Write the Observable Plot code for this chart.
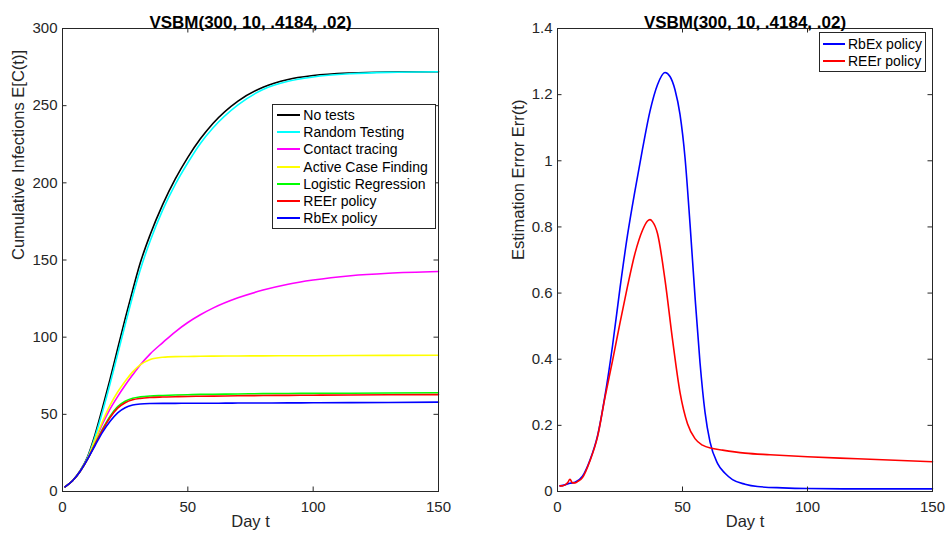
<!DOCTYPE html>
<html><head><meta charset="utf-8">
<script src="https://cdn.jsdelivr.net/npm/d3@7"></script>
<script src="https://cdn.jsdelivr.net/npm/@observablehq/plot@0.6"></script>
<style>
body{margin:0;background:#fff;font-family:"Liberation Sans",Arial,sans-serif;}
#wrap{position:relative;width:947px;height:539px;overflow:hidden;}
.panel{position:absolute;top:0;}
.legend{position:absolute;border:1px solid #262626;background:#fff;font-size:14px;color:#000;box-sizing:border-box;white-space:nowrap;}
.row{display:flex;align-items:center;height:17.2px;}
.sw{height:2px;}
</style></head><body><div id="wrap"></div><script>
// ---------- data ----------
const title = "VSBM(300, 10, .4184, .02)";
const xTicks = [0, 50, 100, 150];
const leftYTicks = [0, 50, 100, 150, 200, 250, 300];
const rightYTicks = [0, 0.2, 0.4, 0.6, 0.8, 1, 1.2, 1.4];

const leftDays = [1,4,7,10,13,16,19,22,25,28,31,35,40,45,50,55,60,70,80,90,100,115,130,150];
const noTests =        [3,7,13.3,22.5,37,54.5,73,92.5,112,130.5,148,166.5,186,202.5,216.5,228.5,238.5,253,262,267,269.5,271.2,271.8,272];
const randomTesting =  [3,7,13.2,22,35.5,52,70,89,108,126.5,143.5,162.5,182.5,199,213,225.5,235.5,250.5,260.5,265.8,268.6,270.7,271.6,272];
const contactTracing = [3,7,13,21.2,33,44,53.5,61.5,68.8,75.6,82,89.2,96.5,103.5,109.5,114.5,118.8,125.5,130.5,134.3,137,139.8,141.4,142.5];
const activeCase =     [3,7,13,21.2,33.5,45.5,56,64.5,71.5,77.5,82,85.5,87,87.4,87.5,87.6,87.7,87.8,87.9,88,88,88.1,88.2,88.3];
const logisticReg =    [3,7,13,21,30.8,40.5,48.8,55,58.5,60.4,61.3,61.9,62.2,62.5,62.7,62.9,63,63.2,63.4,63.5,63.6,63.7,63.8,64];
const reerCum =        [3,7,13,21,30.5,40,48,54,57.5,59.4,60.3,60.9,61.2,61.4,61.6,61.7,61.8,62,62.2,62.3,62.4,62.5,62.7,62.8];
const rbexCum =        [3,7,13,21,29.8,38.5,45.5,51,54.3,56,56.7,57,57.1,57.1,57.2,57.2,57.2,57.3,57.3,57.4,57.5,57.6,57.7,57.9];

const rbexDays = [1,3,5,7,10,13,16,19,22,25,28,31,34,37,40,43,45,47,49,51,53,55,57,59,61,64,67,70,75,80,90,100,120,150];
const rbexErr  = [0.017,0.02,0.025,0.028,0.046,0.095,0.168,0.29,0.44,0.615,0.775,0.91,1.035,1.15,1.23,1.267,1.255,1.215,1.14,1.01,0.81,0.59,0.39,0.24,0.15,0.085,0.055,0.036,0.022,0.015,0.011,0.009,0.008,0.008];
const reerDays = [1,2,3,4,5,6,7,8,10,13,16,19,22,25,28,31,34,36,37,38,40,43,46,49,52,55,58,62,66,75,85,100,120,150];
const reerErr  = [0.017,0.017,0.02,0.026,0.037,0.026,0.026,0.03,0.042,0.093,0.165,0.285,0.395,0.51,0.62,0.72,0.79,0.818,0.822,0.816,0.78,0.64,0.46,0.30,0.205,0.16,0.14,0.13,0.125,0.116,0.111,0.105,0.099,0.090];

const leftSeries = [
  {name: "No tests", values: noTests, color: "#000000"},
  {name: "Random Testing", values: randomTesting, color: "#00ffff"},
  {name: "Contact tracing", values: contactTracing, color: "#ff00ff"},
  {name: "Active Case Finding", values: activeCase, color: "#ffff00"},
  {name: "Logistic Regression", values: logisticReg, color: "#00ff00"},
  {name: "REEr policy", values: reerCum, color: "#ff0000"},
  {name: "RbEx policy", values: rbexCum, color: "#0000ff"}
];
const rightSeries = [
  {name: "RbEx policy", days: rbexDays, values: rbexErr, color: "#0000ff"},
  {name: "REEr policy", days: reerDays, values: reerErr, color: "#ff0000"}
];

// ---------- drawing ----------
const H = 539, MT = 28, MB = 48, TICK = 4.5, AX = "#262626";
const FONT = "'Liberation Sans', Arial, Helvetica, sans-serif";

function panel({width, ml, mr, yDomain, yTicks, yFmt, series, yLabel, yLabelDx}) {
  const plotW = width - ml - mr, plotH = H - MT - MB;
  const lines = series.map(s => Plot.line(
    (s.days || leftDays).map((d, i) => ({day: d, value: s.values[i]})),
    {x: "day", y: "value", stroke: s.color, strokeWidth: 1.6, curve: "monotone-x"}
  ));
  return Plot.plot({
    width, height: H, marginLeft: ml, marginRight: mr, marginTop: MT, marginBottom: MB,
    style: {fontFamily: FONT, fontSize: "15px", color: AX, background: "white", overflow: "visible"},
    x: {domain: [0, 150]},
    y: {domain: yDomain},
    marks: [
      ...lines,
      Plot.frame({stroke: AX, strokeWidth: 1}),
      Plot.tickX(xTicks, {x: d => d, insetTop: plotH - TICK, stroke: AX}),
      Plot.tickX(xTicks, {x: d => d, insetBottom: plotH - TICK, stroke: AX}),
      Plot.tickY(yTicks, {y: d => d, insetRight: plotW - TICK, stroke: AX}),
      Plot.tickY(yTicks, {y: d => d, insetLeft: plotW - TICK, stroke: AX}),
      Plot.axisX(xTicks, {tickSize: 0, tickPadding: 10, label: null, fill: AX}),
      Plot.axisY(yTicks, {tickSize: 0, tickPadding: 5, label: null, tickFormat: yFmt, fill: AX}),
      Plot.text([title], {frameAnchor: "top", dy: -13, fontWeight: "bold", fontSize: 17, fill: "#000"}),
      Plot.text(["Day t"], {frameAnchor: "bottom", dy: 35.5, fontSize: 16.5, fill: AX}),
      Plot.text([yLabel], {frameAnchor: "left", dx: yLabelDx, rotate: -90, fontSize: 16.5, fill: AX})
    ]
  });
}

const wrap = document.getElementById("wrap");
const left = panel({width: 473, ml: 62, mr: 35, yDomain: [0, 300], yTicks: leftYTicks, yFmt: d => String(d),
  series: leftSeries, yLabel: "Cumulative Infections E[C(t)]", yLabelDx: -44});
left.classList.add("panel"); left.style.left = "0px";
wrap.appendChild(left);
const right = panel({width: 474, ml: 84, mr: 15, yDomain: [0, 1.4], yTicks: rightYTicks, yFmt: d => String(+d.toFixed(1)),
  series: rightSeries, yLabel: "Estimation Error Err(t)", yLabelDx: -39});
right.classList.add("panel"); right.style.left = "473px";
wrap.appendChild(right);

function legend(items, {left, top, width, padTop, lineLeft, lineW, gap}) {
  const div = document.createElement("div");
  div.className = "legend";
  Object.assign(div.style, {left: left + "px", top: top + "px", width: width + "px", paddingTop: padTop + "px", paddingBottom: "1px"});
  for (const it of items) {
    const row = document.createElement("div");
    row.className = "row";
    const sw = document.createElement("span");
    sw.className = "sw";
    Object.assign(sw.style, {background: it.color, width: lineW + "px", marginLeft: lineLeft + "px", marginRight: gap + "px"});
    const tx = document.createElement("span");
    tx.textContent = it.name;
    row.appendChild(sw); row.appendChild(tx);
    div.appendChild(row);
  }
  wrap.appendChild(div);
}
legend(leftSeries, {left: 272, top: 104, width: 164, padTop: 1.4, lineLeft: 4.3, lineW: 23, gap: 3});
legend(rightSeries, {left: 819, top: 32, width: 107, padTop: 2.4, lineLeft: 3, lineW: 22, gap: 3});
</script></body></html>
